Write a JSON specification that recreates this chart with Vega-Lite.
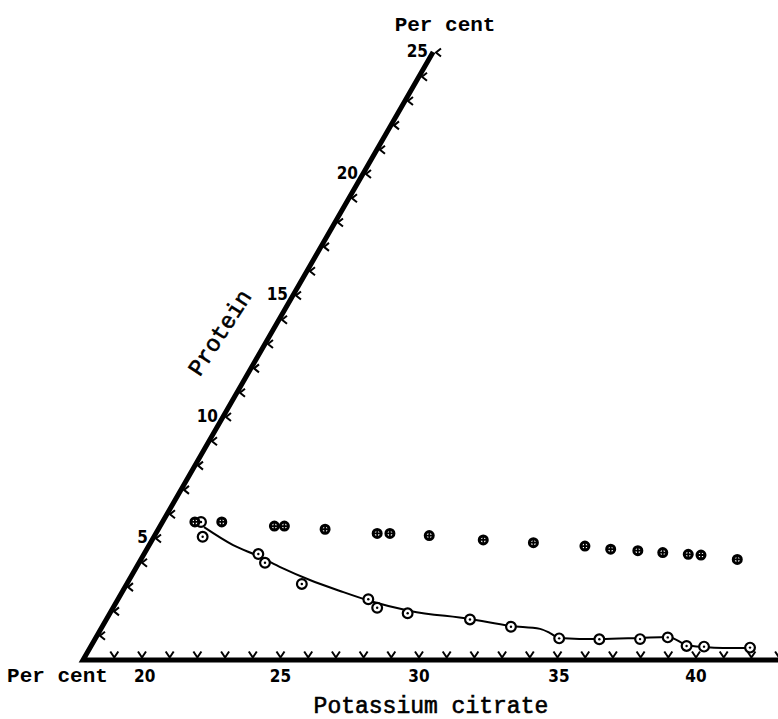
{
  "$schema": "https://vega.github.io/schema/vega-lite/v6.json",
  "width": 778,
  "height": 719,
  "padding": 0,
  "autosize": {"type": "none"},
  "background": "white",
  "config": {"view": {"stroke": null}},
  "datasets": {
    "frame": [
      {"x": 30.51, "y": 25.02, "o": 1},
      {"x": 17.87, "y": 0, "o": 2},
      {"x": 42.96, "y": 0, "o": 3}
    ],
    "xticks": [
      {"x": 19, "y": 0}, {"x": 20, "y": 0}, {"x": 21, "y": 0}, {"x": 22, "y": 0}, {"x": 23, "y": 0},
      {"x": 24, "y": 0}, {"x": 25, "y": 0}, {"x": 26, "y": 0}, {"x": 27, "y": 0}, {"x": 28, "y": 0},
      {"x": 29, "y": 0}, {"x": 30, "y": 0}, {"x": 31, "y": 0}, {"x": 32, "y": 0}, {"x": 33, "y": 0},
      {"x": 34, "y": 0}, {"x": 35, "y": 0}, {"x": 36, "y": 0}, {"x": 37, "y": 0}, {"x": 38, "y": 0},
      {"x": 39, "y": 0}, {"x": 40, "y": 0}, {"x": 41, "y": 0}, {"x": 42, "y": 0}, {"x": 43, "y": 0}
    ],
    "pticks": [
      {"x": 18.375, "y": 1}, {"x": 18.881, "y": 2}, {"x": 19.386, "y": 3}, {"x": 19.892, "y": 4},
      {"x": 20.397, "y": 5}, {"x": 20.902, "y": 6}, {"x": 21.408, "y": 7}, {"x": 21.913, "y": 8},
      {"x": 22.419, "y": 9}, {"x": 22.924, "y": 10}, {"x": 23.429, "y": 11}, {"x": 23.935, "y": 12},
      {"x": 24.44, "y": 13}, {"x": 24.946, "y": 14}, {"x": 25.451, "y": 15}, {"x": 25.956, "y": 16},
      {"x": 26.462, "y": 17}, {"x": 26.967, "y": 18}, {"x": 27.473, "y": 19}, {"x": 27.978, "y": 20},
      {"x": 28.483, "y": 21}, {"x": 28.989, "y": 22}, {"x": 29.494, "y": 23}, {"x": 30.0, "y": 24},
      {"x": 30.505, "y": 25}
    ],
    "plabels": [
      {"x": 20.397, "y": 5, "t": "5"},
      {"x": 22.924, "y": 10, "t": "10"},
      {"x": 25.451, "y": 15, "t": "15"},
      {"x": 27.978, "y": 20, "t": "20"},
      {"x": 30.505, "y": 25, "t": "25"}
    ],
    "xlabels": [
      {"x": 20.1, "y": -0.7, "t": "20"},
      {"x": 25.0, "y": -0.7, "t": "25"},
      {"x": 30.0, "y": -0.7, "t": "30"},
      {"x": 35.05, "y": -0.7, "t": "35"},
      {"x": 40.0, "y": -0.7, "t": "40"}
    ],
    "percent": [
      {"x": 16.95, "y": -0.66, "t": "Per cent"},
      {"x": 30.94, "y": 26.13, "t": "Per cent"}
    ],
    "xtitle": [
      {"x": 30.43, "y": -1.89, "t": "Potassium citrate"}
    ],
    "protein": [
      {"x": 22.82, "y": 13.46, "t": "Protein"}
    ],
    "curve": [
      {"x": 22.24, "y": 5.47}, {"x": 23.29, "y": 4.73}, {"x": 24.19, "y": 4.28}, {"x": 25.05, "y": 3.79},
      {"x": 26.06, "y": 3.29}, {"x": 27.15, "y": 2.84}, {"x": 28.23, "y": 2.43}, {"x": 29.68, "y": 2.02},
      {"x": 31.84, "y": 1.69}, {"x": 33.32, "y": 1.4}, {"x": 34.37, "y": 1.28}, {"x": 34.73, "y": 1.11},
      {"x": 35.05, "y": 0.91}, {"x": 36.53, "y": 0.86}, {"x": 37.98, "y": 0.91}, {"x": 38.99, "y": 0.95},
      {"x": 39.67, "y": 0.62}, {"x": 40.29, "y": 0.53}, {"x": 40.97, "y": 0.49}, {"x": 41.95, "y": 0.49}
    ],
    "open": [
      {"x": 22.13, "y": 5.68}, {"x": 22.19, "y": 5.07}, {"x": 24.2, "y": 4.36}, {"x": 24.44, "y": 4.0},
      {"x": 25.77, "y": 3.13}, {"x": 28.17, "y": 2.5}, {"x": 28.49, "y": 2.15}, {"x": 29.59, "y": 1.92},
      {"x": 31.84, "y": 1.67}, {"x": 33.32, "y": 1.37}, {"x": 35.06, "y": 0.89}, {"x": 36.51, "y": 0.85},
      {"x": 37.98, "y": 0.86}, {"x": 38.98, "y": 0.93}, {"x": 39.66, "y": 0.58}, {"x": 40.29, "y": 0.55},
      {"x": 41.95, "y": 0.51}
    ],
    "crossed": [
      {"x": 21.91, "y": 5.68}, {"x": 22.88, "y": 5.68}, {"x": 24.78, "y": 5.51}, {"x": 25.14, "y": 5.51},
      {"x": 26.61, "y": 5.38}, {"x": 28.49, "y": 5.21}, {"x": 28.95, "y": 5.21}, {"x": 30.37, "y": 5.12},
      {"x": 32.32, "y": 4.94}, {"x": 34.13, "y": 4.83}, {"x": 35.99, "y": 4.69}, {"x": 36.92, "y": 4.56},
      {"x": 37.9, "y": 4.5}, {"x": 38.8, "y": 4.42}, {"x": 39.72, "y": 4.35}, {"x": 40.18, "y": 4.32},
      {"x": 41.49, "y": 4.14}
    ]
  },
  "encoding": {
    "x": {"field": "x", "type": "quantitative", "scale": {"domain": [14.874, 42.96], "nice": false, "zero": false}, "axis": null},
    "y": {"field": "y", "type": "quantitative", "scale": {"domain": [-2.428, 27.16], "nice": false, "zero": false}, "axis": null}
  },
  "layer": [
    {
      "data": {"name": "frame"},
      "mark": {"type": "line", "stroke": "black", "strokeWidth": 5, "strokeJoin": "miter", "strokeCap": "butt"},
      "encoding": {"order": {"field": "o", "type": "quantitative"}}
    },
    {
      "data": {"name": "xticks"},
      "mark": {"type": "point", "shape": "M-0.8,-1.7L0,-0.5L0.8,-1.7", "size": 100, "filled": false, "stroke": "black", "strokeWidth": 2, "opacity": 1}
    },
    {
      "data": {"name": "pticks"},
      "mark": {"type": "point", "shape": "M1.6,-0.8L0.6,0L1.6,0.8", "size": 100, "filled": false, "stroke": "black", "strokeWidth": 2, "opacity": 1}
    },
    {
      "data": {"name": "plabels"},
      "mark": {"type": "text", "align": "right", "baseline": "middle", "dx": -5, "font": "DejaVu Sans Condensed", "fontWeight": "bold", "fontSize": 17, "color": "black"},
      "encoding": {"text": {"field": "t"}}
    },
    {
      "data": {"name": "xlabels"},
      "mark": {"type": "text", "align": "center", "baseline": "middle", "font": "DejaVu Sans Condensed", "fontWeight": "bold", "fontSize": 17, "color": "black"},
      "encoding": {"text": {"field": "t"}}
    },
    {
      "data": {"name": "percent"},
      "mark": {"type": "text", "align": "center", "baseline": "middle", "font": "Liberation Mono", "fontWeight": "bold", "fontSize": 21, "color": "black"},
      "encoding": {"text": {"field": "t"}}
    },
    {
      "data": {"name": "xtitle"},
      "mark": {"type": "text", "align": "center", "baseline": "middle", "font": "Liberation Mono", "fontWeight": "normal", "fontSize": 23, "color": "black", "stroke": "black", "strokeWidth": 0.6}
      ,
      "encoding": {"text": {"field": "t"}}
    },
    {
      "data": {"name": "protein"},
      "mark": {"type": "text", "align": "center", "baseline": "middle", "angle": -57, "font": "Liberation Mono", "fontWeight": "normal", "fontSize": 23, "color": "black", "stroke": "black", "strokeWidth": 0.6},
      "encoding": {"text": {"field": "t"}}
    },
    {
      "data": {"name": "curve"},
      "mark": {"type": "line", "interpolate": "monotone", "stroke": "black", "strokeWidth": 2}
    },
    {
      "data": {"name": "open"},
      "mark": {"type": "circle", "size": 95, "fill": "white", "fillOpacity": 1, "stroke": "black", "strokeWidth": 2.2, "opacity": 1}
    },
    {
      "data": {"name": "open"},
      "mark": {"type": "circle", "size": 6, "fill": "black", "opacity": 1}
    },
    {
      "data": {"name": "crossed"},
      "mark": {"type": "circle", "size": 64, "fill": "white", "fillOpacity": 1, "stroke": "black", "strokeWidth": 3, "opacity": 1}
    },
    {
      "data": {"name": "crossed"},
      "mark": {"type": "point", "shape": "M-1,0L1,0M0,-1L0,1", "size": 64, "filled": false, "stroke": "black", "strokeWidth": 1.8, "opacity": 1}
    }
  ]
}
